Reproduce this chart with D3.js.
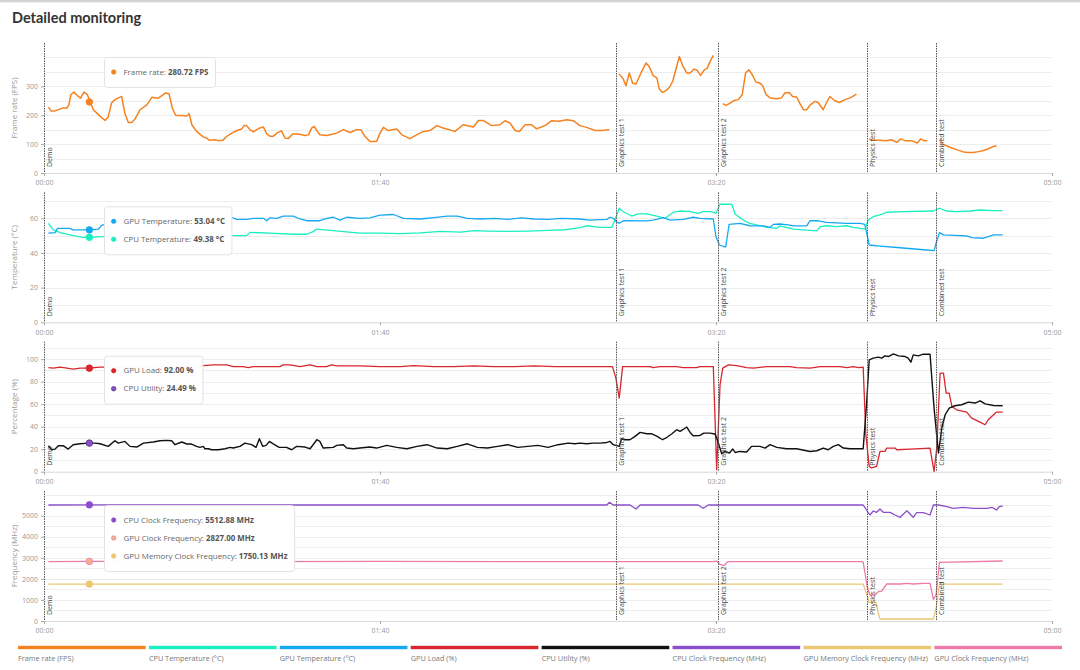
<!DOCTYPE html>
<html>
<head>
<meta charset="utf-8">
<script src="https://cdn.jsdelivr.net/npm/d3@7"></script>
<style>
  body { margin: 0; background: #fff; font-family: "Open Sans", "Noto Sans", sans-serif; }
</style>
</head>
<body>
<div id="chart"></div>
<script>
// [seconds, value]; null breaks the line between tests
const frameRate = [
  [1.3,228],[2.1,215],[3.3,215],[4.8,222],[5.7,225],[6.8,225],[7.4,236],[8.0,271],[8.9,280],[9.9,268],[10.9,259],[11.9,280],[12.9,271],[13.7,248],[14.7,219],[16.7,196],[18.2,182],[19.1,194],[20.1,242],[21.1,254],[23.1,265],[24.1,205],[25.1,175],[26.1,175],[27.1,187],[28.6,219],[30.6,236],[32.1,262],[34.0,259],[35.0,267],[36.2,277],[37.2,274],[38.2,225],[39.2,199],[41.0,199],[42.5,197],[43.2,205],[44.0,167],[45.4,144],[47.4,125],[48.4,121],[49.2,113],[50.9,115],[51.9,112],[53.2,113],[54.4,127],[55.9,138],[57.4,147],[58.8,152],[59.5,164],[60.3,164],[61.3,150],[62.3,142],[63.3,150],[64.3,156],[65.3,159],[66.3,135],[67.3,127],[68.2,127],[69.3,138],[70.7,146],[71.7,121],[72.7,119],[74.0,135],[75.7,135],[77.7,130],[78.7,132],[79.7,156],[80.4,161],[82.1,132],[84.1,130],[86.1,135],[87.1,138],[89.1,150],[91.1,140],[93.1,150],[94.3,150],[95.5,127],[97.0,109],[99.0,109],[100.0,138],[101.0,158],[102.5,147],[105.0,152],[106.5,132],[108.9,119],[110.9,132],[112.9,144],[114.9,147],[116.9,164],[118.8,156],[122.3,144],[124.8,167],[127.8,159],[129.3,182],[130.7,182],[133.2,164],[135.7,167],[137.2,181],[138.7,173],[140.2,147],[141.5,144],[143.2,167],[145.1,167],[146.6,153],[149.1,164],[151.1,181],[153.1,179],[155.6,184],[157.5,181],[159.5,164],[161.5,158],[164.0,147],[166.0,147],[168.2,150],
  [170,null],
  [171.2,343],[172.4,325],[173.2,302],[174.2,346],[175.2,311],[176.2,308],[177.9,352],[179.2,381],[180.2,367],[181.3,337],[182.4,329],[183.1,291],[184.1,279],[185.1,285],[186.1,296],[187.1,317],[188.1,360],[189.1,403],[190.1,371],[191.3,346],[192.3,346],[193.5,360],[194.4,355],[195.4,338],[196.4,355],[197.4,363],[198.4,390],[199.2,407],
  [200.5,null],
  [202.0,240],[203.0,234],[204.2,242],[205.4,251],[206.6,254],[207.8,271],[208.8,346],[209.8,357],[210.8,340],[211.9,315],[213.1,311],[213.9,302],[214.9,271],[216.1,260],[218.1,257],[219.5,260],[220.5,277],[221.8,279],[222.8,265],[224.0,263],[225.0,240],[226.0,219],[227.0,219],[228.0,236],[229.5,248],[230.4,244],[231.9,219],[232.9,244],[233.9,265],[235.4,250],[236.7,244],[238.4,254],[239.9,260],[240.7,265],[241.8,273],
  [244,null],
  [245.6,118],[246.8,113],[248.8,113],[250.6,112],[252.3,115],[253.8,106],[255.0,118],[256.2,112],[258.2,112],[259.9,104],[260.9,118],[261.9,112],[262.9,112],
  [264.5,null],
  [266.5,115],[267.5,100],[269.6,89],[271.6,81],[273.6,73],[275.1,71],[276.6,71],[278.1,74],[279.6,78],[281.1,84],[282.6,92],[283.5,94]
];

const gpuTemperature = [
  [1.3,51.4],[3.3,51.7],[4.0,54.2],[7.7,54.2],[8.7,53.3],[11.7,53.3],[13.5,53.3],[16.2,53.7],[17.2,56.1],[21,57],[30,58],[40,59],[50,59.5],[55.4,60.9],[57.4,59.4],[60.3,59.4],[62.3,60],[65.3,60],[66.3,58.6],[67.3,60.3],[69.3,60],[71.2,61.3],[74.2,61.3],[76.2,59.6],[78.2,58.6],[82.1,58.6],[84.1,60],[86.1,60.6],[88.1,59],[90.1,60.6],[94.0,60],[97,60.3],[100,61.8],[104,62.2],[107,60],[112,59.6],[116,60.4],[120,61.3],[123,61.3],[126,60],[130,59.6],[134,60],[138,59.4],[142,60.2],[146,59.6],[150,59.4],[154,60],[159.5,59.6],[162.5,59],[167.5,59.4],[168.5,60.6],[169.4,60],[170.4,58],[171.2,57.1],[172.4,58.6],[179.4,58.5],[181.3,59],[184.3,60.4],[186.3,59],[190.3,59.4],[193.2,60.6],[195.2,60],[199.2,59.6],[200.0,49.4],[201.0,44.6],[202.4,43.6],[202.9,43.6],[203.9,56.5],[207.1,57.1],[210.1,55.7],[214.1,55.6],[216.1,54.8],[217.1,56.5],[219.0,56.7],[222.0,56.1],[223.0,55.6],[227.0,55.6],[228.0,58.6],[230.0,58.6],[232.9,57.7],[238.9,57.1],[242.9,57.1],[244.3,56.5],[245.6,44.6],[248.8,44],[254.8,43],[262.7,41.7],[264.9,41.3],[265.5,45.6],[266.5,51.7],[267.7,50.4],[272.6,50],[274.6,49.8],[276.1,48.8],[279.6,48.5],[281.1,49.4],[282.6,50.4],[285.3,50.4]
];

const cpuTemperature = [
  [1.3,57.1],[2.8,53.3],[4.8,51.7],[8.7,50],[11.7,49],[13.5,49],[17.2,49.4],[25,49.6],[35,49.8],[45,50],[55.4,50],[60.3,50],[61.3,51.9],[67.3,51.4],[74.2,50.8],[78.2,50.8],[80.1,52.3],[81.1,53.7],[86.1,52.9],[94.0,51.4],[100,51.4],[106,51.2],[112,51.6],[118,52.4],[124,52],[128,52.9],[132,52.6],[138,52.4],[144,52.6],[150,53],[155,53.4],[159.5,54.6],[161.5,55.7],[165.5,54.8],[169.0,54.8],[169.9,59],[171.2,65.8],[172.4,63.8],[174.9,61.3],[176.9,62.5],[179.4,62.5],[182.4,61.3],[184.8,60],[187.3,63.5],[189.3,64.2],[192.3,63.8],[194.7,62.9],[196.2,63.8],[198.7,63.8],[200.0,62.9],[201.2,68.1],[204.7,68.1],[205.7,62.3],[208.1,59],[210.1,57.1],[215.1,54.8],[218.1,54.2],[219.0,55.6],[223.0,53.8],[230.0,52.7],[231.0,55.2],[232.9,55.7],[235.9,55.2],[238.9,55.7],[240.9,54.8],[244.3,53.7],[245.3,59],[246.8,60.9],[249.3,62.3],[250.8,63.5],[255.7,63.8],[264.7,64.2],[266.5,65.8],[268.7,64.2],[271.6,63.8],[275.6,64.2],[278.6,64.8],[282.6,64.4],[285.3,64.4]
];

const gpuLoad = [
  [1.3,92.5],[2.8,92],[4.8,92.9],[6.8,92],[8.7,91.1],[10.7,92],[13.5,92],[16.7,92.9],[25,93],[35,93.4],[45,93.4],[47.4,94.3],[50.4,94.9],[54.4,94.9],[56.3,93.4],[59.3,93.4],[60.8,92.5],[62.3,93.4],[70.2,93.4],[71.2,94.9],[73.2,94.9],[76.2,93.4],[79.2,94.9],[81.2,93.4],[84.1,93.4],[85.6,94.9],[87.1,94],[94.0,94],[100,93.4],[106,93.4],[110,94.3],[116,93.4],[122,93.4],[128,94],[134,93.4],[140,93.4],[146,94],[152,93.4],[159.5,93.4],[169.2,93.4],[170.2,83.1],[171.2,65.4],[172.2,93.4],[180.4,93.4],[181.3,92.5],[183.3,93.4],[188.3,93.4],[190.3,92.5],[194.2,92.5],[195.2,93.4],[199.2,93.4],[200.2,1.8],[201.2,77.2],[202.0,92],[203.7,94.9],[206.2,94.3],[209.1,92.5],[211.1,92],[215.1,93.4],[222.0,93.4],[224.0,92.5],[228.0,92],[231.0,93.4],[236.9,93.4],[238.9,92.5],[240.9,93.4],[242.4,92.5],[243.8,92.9],[244.6,32.8],[245.6,4.7],[246.3,3.3],[247.8,4.7],[248.8,18],[250.3,18],[250.8,21],[253.3,21],[253.8,19.5],[257.7,20.1],[263.7,21],[264.9,0.3],[265.7,21],[266.7,87.6],[267.7,87.6],[268.5,69.8],[269.4,69.8],[270.2,58],[271.6,55],[274.6,53],[276.1,47.6],[278.6,44.1],[280.1,41.7],[281.0,46.1],[283.5,53],[285.3,53]
];

const cpuUtility = [
  [1.3,23.1],[2.3,19.5],[3.3,20.1],[4.3,23.1],[5.7,23.1],[7.2,20.1],[8.7,24],[10.7,24.8],[13.5,25.4],[15.2,25.4],[16.7,24.8],[19.1,22.5],[21.1,27.5],[22.1,25.4],[24.1,26.9],[25.6,22.5],[27.6,21.9],[29.6,25.4],[32.5,26.4],[34.5,27.5],[36.5,27.8],[38.0,27.5],[39.0,24],[41.0,26.4],[42.5,24.6],[43.9,24.6],[45.4,22.5],[46.4,21.6],[47.4,22.5],[47.9,20.4],[48.9,20.4],[49.9,19.5],[51.9,19.5],[53.9,20.4],[55.4,21.6],[56.3,21.1],[58.3,22.5],[59.8,25.4],[61.8,24],[63.1,21.6],[64.1,29.3],[65.1,22.5],[66.1,23.4],[67.1,26.9],[68.2,24.8],[70.0,21.6],[72.2,21.6],[73.7,19.5],[75.2,22.5],[77.7,21.9],[79.2,20.4],[81.2,28.4],[82.1,26.9],[83.1,21],[86.1,21.6],[87.1,23.4],[89.1,24],[90.1,21],[92.1,20.4],[94.0,21],[97,22],[99,21],[102,23.4],[105,21.6],[108,20.4],[111,22.5],[114,24],[117,21],[120,20.4],[123,22.5],[126,24.8],[129,21.6],[132,21],[135,22.5],[138,24],[141,21.6],[144,22.5],[147,23.4],[150,21.6],[153,24],[156,25.4],[158,24.8],[159.5,25.4],[161.5,24.8],[163.5,25.4],[165.5,25.4],[167.5,26],[168.5,26.9],[169.4,24],[171.2,22.5],[171.9,29.3],[172.9,28.4],[174.4,28.4],[175.9,31.4],[177.4,34.9],[179.4,33.7],[180.9,33.7],[182.5,31.4],[184.1,28.4],[185.5,30.8],[186.8,33.5],[188.3,37.3],[189.3,35.8],[190.1,37.3],[191.3,39.7],[192.3,34.9],[193.2,31.9],[195.2,32.2],[196.4,34.3],[198.2,34.3],[199.7,33.5],[200.4,28.4],[201.7,16],[202.7,18],[204.0,16.6],[205.0,20.1],[205.7,17.1],[207.1,18],[209.1,17.5],[210.6,22.5],[213.1,22.5],[214.6,21],[216.1,24],[218.1,21.6],[221.0,20.4],[224.0,20.4],[228.0,18],[230.0,18.6],[231.9,21],[233.4,19.5],[234.9,22.5],[236.4,24],[237.9,21],[239.9,20.4],[243.8,20.4],[244.8,59.5],[245.6,99.4],[246.8,100.9],[248.3,101.8],[249.3,100.9],[250.3,102.9],[251.3,102.3],[252.8,104.7],[254.3,102.9],[256.3,102.3],[257.2,100.9],[258.0,97.3],[258.7,103.8],[260.2,102.9],[261.7,104.4],[263.7,104.4],[264.9,56.5],[266.2,16.6],[267.2,38.8],[268.2,50.6],[269.4,56.5],[271.1,58.6],[273.1,59.5],[275.1,61.8],[277.1,61],[278.6,63],[280.1,60.3],[282.6,58.8],[285.3,58.6]
];

const cpuClock = [
  [1.3,5505],[13.5,5512],[60,5505],[100,5505],[140,5505],[167.5,5505],[168.3,5633],[169.4,5505],[174.4,5505],[176.2,5316],[177.4,5505],[194.7,5505],[196.2,5348],[197.7,5505],[243.8,5505],[245.8,5031],[246.8,5221],[247.8,5158],[248.8,5316],[249.8,5158],[251.8,5158],[253.3,5031],[254.8,4921],[256.8,5236],[258.7,4921],[259.7,5142],[261.7,5142],[263.7,5031],[264.7,5505],[266.2,5505],[268.7,5427],[270.6,5348],[273.6,5396],[276.6,5348],[280.6,5348],[282.1,5396],[283.5,5268],[284.3,5427],[285.3,5458]
];

const gpuClock = [
  [1.3,2815],[13.5,2827],[60,2815],[100,2830],[140,2815],[199.2,2815],[200.2,2847],[201.2,2690],[202.4,2625],[203.4,2800],[204.2,2815],[242.9,2815],[243.8,2800],[245,1628],[245.8,1234],[247.3,1234],[248.3,1391],[249.3,1423],[250.8,1756],[254.8,1756],[256.8,1789],[258.7,1756],[261.7,1789],[263.7,1789],[264.7,1030],[265.5,1234],[266.5,2786],[285.3,2848]
];

const gpuMemoryClock = [
  [1.3,1750],[243.8,1750],[244.6,1391],[245.6,888],[247.6,888],[248.3,365],[248.8,95],[264.7,95],[265.5,603],[266.5,1750],[285.3,1750]
];

const testNames = ['Demo', 'Graphics test 1', 'Graphics test 2', 'Physics test', 'Combined test'];
const testStarts = [0, 170.1, 200.6, 244.8, 265.5];

const timeTicks = [0, 100, 200, 300];
const fpsTicks = [0, 100, 200, 300];
const tempTicks = [0, 20, 40, 60];
const pctTicks = [0, 20, 40, 60, 80, 100];
const freqTicks = [0, 1000, 2000, 3000, 4000, 5000];

const legendNames = ['Frame rate (FPS)', 'CPU Temperature (°C)', 'GPU Temperature (°C)', 'GPU Load (%)',
  'CPU Utility (%)', 'CPU Clock Frequency (MHz)', 'GPU Memory Clock Frequency (MHz)', 'GPU Clock Frequency (MHz)'];

// hovered sample (shown as dots + tooltip)
const hoverTime = 13.5;
const hoverFps = 246, hoverGpuTemp = 53.3, hoverCpuTemp = 49.0, hoverGpuLoad = 92, hoverCpuUtil = 25.4;
const hoverCpuClock = 5512, hoverGpuClock = 2827, hoverMemClock = 1750;

const color = {
  fps: '#f58220', cpuTemp: '#1aefc0', gpuTemp: '#16a9f3', gpuLoad: '#d8262e',
  cpuUtil: '#111111', cpuClock: '#8c4fcb', memClock: '#ebc674', gpuClock: '#ec7ba9'
};
const legendColors = [color.fps, color.cpuTemp, color.gpuTemp, color.gpuLoad, color.cpuUtil, color.cpuClock, color.memClock, color.gpuClock];

const config = { width: 1080, height: 670, left: 44, right: 1052, panelHeight: 130 };

const svg = d3.select('#chart').append('svg')
  .attr('width', config.width)
  .attr('height', config.height);

// header strip + title
svg.append('rect').attr('x', 0).attr('y', 0).attr('width', config.width).attr('height', 2).attr('fill', '#d4d4d4');
svg.append('rect').attr('x', 0).attr('y', 2).attr('width', config.width).attr('height', 1).attr('fill', '#eeeeee');
svg.append('text')
  .attr('x', 12).attr('y', 23)
  .attr('font-family', 'Lato, "Open Sans", sans-serif')
  .attr('font-size', 14.5).attr('font-weight', 700).attr('fill', '#333')
  .text('Detailed monitoring');

const xScale = d3.scaleLinear().domain([0, 300]).range([config.left, config.right]);
const pad = d3.format('02');
const fmtTime = s => pad(Math.floor(s / 60)) + ':' + pad(s % 60);

const panels = [
  { top: 43, max: 450, step: 50, ticks: fpsTicks, label: 'Frame rate (FPS)',
    series: [{ data: frameRate, color: color.fps, width: 1.5 }],
    dots: [{ v: hoverFps, fill: color.fps, stroke: color.fps }],
    tip: [{ name: 'Frame rate: ', value: '280.72 FPS', fill: color.fps, stroke: color.fps }] },
  { top: 192.3, max: 75, step: 10, ticks: tempTicks, label: 'Temperature (°C)',
    series: [{ data: cpuTemperature, color: color.cpuTemp, width: 1.3 }, { data: gpuTemperature, color: color.gpuTemp, width: 1.3 }],
    dots: [{ v: hoverGpuTemp, fill: color.gpuTemp, stroke: color.gpuTemp }, { v: hoverCpuTemp, fill: color.cpuTemp, stroke: color.cpuTemp }],
    tip: [{ name: 'GPU Temperature: ', value: '53.04 °C', fill: color.gpuTemp, stroke: color.gpuTemp },
          { name: 'CPU Temperature: ', value: '49.38 °C', fill: color.cpuTemp, stroke: color.cpuTemp }] },
  { top: 341.7, max: 115.5, step: 10, ticks: pctTicks, label: 'Percentage (%)',
    series: [{ data: gpuLoad, color: color.gpuLoad, width: 1.3 }, { data: cpuUtility, color: color.cpuUtil, width: 1.4 }],
    dots: [{ v: hoverGpuLoad, fill: color.gpuLoad, stroke: color.gpuLoad }, { v: hoverCpuUtil, fill: '#8a4fcc', stroke: '#553080' }],
    tip: [{ name: 'GPU Load: ', value: '92.00 %', fill: color.gpuLoad, stroke: color.gpuLoad },
          { name: 'CPU Utility: ', value: '24.49 %', fill: '#8a4fcc', stroke: '#3a2060' }] },
  { top: 491, max: 6170, step: 500, ticks: freqTicks, label: 'Frequency (MHz)',
    series: [{ data: gpuMemoryClock, color: color.memClock, width: 1.3 }, { data: gpuClock, color: color.gpuClock, width: 1.3 },
             { data: cpuClock, color: color.cpuClock, width: 1.3 }],
    dots: [{ v: hoverCpuClock, fill: color.cpuClock, stroke: color.cpuClock }, { v: hoverGpuClock, fill: '#f3b08e', stroke: color.gpuClock },
           { v: hoverMemClock, fill: color.memClock, stroke: color.memClock }],
    tip: [{ name: 'CPU Clock Frequency: ', value: '5512.88 MHz', fill: color.cpuClock, stroke: color.cpuClock },
          { name: 'GPU Clock Frequency: ', value: '2827.00 MHz', fill: '#f3b08e', stroke: color.gpuClock },
          { name: 'GPU Memory Clock Frequency: ', value: '1750.13 MHz', fill: color.memClock, stroke: color.memClock }] }
];

panels.forEach(p => drawPanel(p));

function drawPanel(p) {
  const bottom = p.top + config.panelHeight;
  const yScale = d3.scaleLinear().domain([0, p.max]).range([bottom, p.top]);
  const g = svg.append('g');

  // grid
  g.selectAll('.grid')
    .data(d3.range(p.step, p.max, p.step))
    .join('line')
      .attr('x1', config.left).attr('x2', config.right)
      .attr('y1', d => Math.round(yScale(d)) + 0.5).attr('y2', d => Math.round(yScale(d)) + 0.5)
      .attr('stroke', '#ededed');

  // x axis
  const xAxis = g.append('g')
    .attr('transform', `translate(0,${bottom})`)
    .call(d3.axisBottom(xScale).tickValues(timeTicks).tickFormat(fmtTime).tickSize(3).tickSizeOuter(0));
  xAxis.select('.domain').attr('stroke', '#d8d8d8');
  xAxis.selectAll('.tick line').attr('stroke', '#aaa');
  xAxis.selectAll('text').attr('font-size', 7).attr('fill', '#999').attr('font-family', '"Open Sans", sans-serif').attr('dy', '0.9em');

  // y axis
  const yAxis = g.append('g')
    .attr('transform', `translate(${config.left},0)`)
    .call(d3.axisLeft(yScale).tickValues(p.ticks).tickFormat(d3.format('d')).tickSize(3).tickSizeOuter(0));
  yAxis.select('.domain').remove();
  yAxis.selectAll('.tick line').attr('stroke', '#aaa');
  yAxis.selectAll('text').attr('font-size', 7).attr('fill', '#999').attr('font-family', '"Open Sans", sans-serif');

  g.append('text')
    .attr('transform', `translate(16.5,${(p.top + bottom) / 2}) rotate(-90)`)
    .attr('text-anchor', 'middle')
    .attr('font-size', 8).attr('fill', '#999')
    .text(p.label);

  // series
  const line = d3.line()
    .defined(d => d[1] != null)
    .x(d => xScale(d[0]))
    .y(d => yScale(d[1]));

  p.series.forEach(s => {
    g.append('path')
      .datum(s.data)
      .attr('fill', 'none')
      .attr('stroke', s.color)
      .attr('stroke-width', s.width)
      .attr('stroke-linejoin', 'round')
      .attr('d', line);
  });

  // test markers
  testStarts.forEach((t, i) => {
    const x = Math.round(xScale(t)) + 0.5;
    g.append('line')
      .attr('x1', x).attr('x2', x)
      .attr('y1', p.top).attr('y2', bottom)
      .attr('stroke', '#555').attr('stroke-width', 1)
      .attr('stroke-dasharray', '1.5,1');
    g.append('text')
      .attr('transform', `translate(${x + 7.5},${bottom - 6}) rotate(-90)`)
      .attr('font-size', 7).attr('fill', '#444')
      .text(testNames[i]);
  });

  // hover dots
  p.dots.forEach(d => {
    g.append('circle')
      .attr('cx', xScale(hoverTime)).attr('cy', yScale(d.v))
      .attr('r', 3.3)
      .attr('fill', d.fill).attr('stroke', d.stroke).attr('stroke-width', 0.8);
  });

  // tooltip
  const tipTop = p.top + 14.5;
  const tip = g.append('g');
  const box = tip.append('rect')
    .attr('x', 104.5).attr('y', tipTop)
    .attr('height', 12 + 18 * p.tip.length)
    .attr('rx', 3)
    .attr('fill', 'rgba(255,255,255,0.97)')
    .attr('stroke', '#e2e2e2');
  let maxEnd = 0;
  p.tip.forEach((row, i) => {
    const cy = tipTop + 14.5 + i * 18;
    tip.append('circle')
      .attr('cx', 113.7).attr('cy', cy).attr('r', 2.3)
      .attr('fill', row.fill).attr('stroke', row.stroke).attr('stroke-width', 0.6);
    const txt = tip.append('text')
      .attr('x', 123.5).attr('y', cy)
      .attr('dy', '0.35em')
      .attr('font-size', 7.9).attr('fill', '#666');
    txt.append('tspan').text(row.name);
    txt.append('tspan').attr('font-weight', 700).attr('fill', '#555').text(row.value);
    maxEnd = Math.max(maxEnd, 123.5 + txt.node().getComputedTextLength());
  });
  box.attr('width', maxEnd - 104.5 + 7);
}

// legend
const legendX = d3.scaleBand().domain(legendNames).range([18, 1062]).paddingInner(0.025);
const legend = svg.append('g');
legend.selectAll('rect')
  .data(legendNames)
  .join('rect')
    .attr('x', d => legendX(d)).attr('y', 645.8)
    .attr('width', legendX.bandwidth()).attr('height', 3.4)
    .attr('fill', (d, i) => legendColors[i]);
legend.selectAll('text')
  .data(legendNames)
  .join('text')
    .attr('x', d => legendX(d)).attr('y', 660.5)
    .attr('font-size', 7.3).attr('fill', '#777')
    .text(d => d);
</script>
</body>
</html>
